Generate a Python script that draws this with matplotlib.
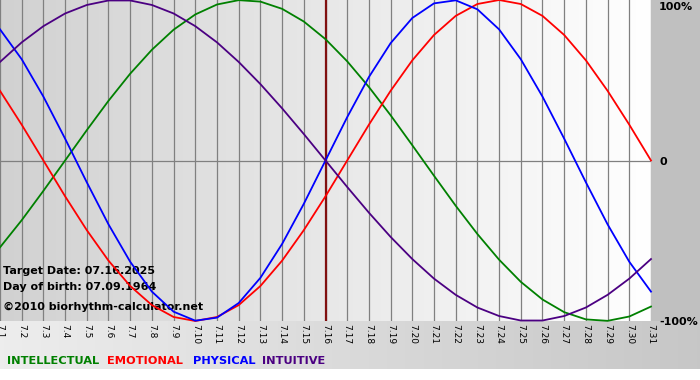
import numpy as np
import matplotlib
matplotlib.use("Agg")
import matplotlib.pyplot as plt

# days of July 2025 shown on the x axis
days = list(range(1, 32))
day_labels = ["7.%d" % d for d in days]
target_day = 16

# cycle values (-1..1), one per day
physical = [0.817, 0.631, 0.398, 0.136, -0.136, -0.398, -0.631, -0.817, -0.942, -0.998,
            -0.979, -0.888, -0.731, -0.520, -0.270, 0.0, 0.270, 0.520, 0.731, 0.888,
            0.979, 0.998, 0.942, 0.817, 0.631, 0.398, 0.136, -0.136, -0.398, -0.631, -0.817]
emotional = [0.434, 0.223, 0.0, -0.223, -0.434, -0.624, -0.782, -0.901, -0.975, -1.0,
             -0.975, -0.901, -0.782, -0.624, -0.434, -0.223, 0.0, 0.223, 0.434, 0.624,
             0.782, 0.901, 0.975, 1.0, 0.975, 0.901, 0.782, 0.624, 0.434, 0.223, 0.0]
intellectual = [-0.541, -0.372, -0.189, 0.0, 0.189, 0.372, 0.541, 0.690, 0.815, 0.910,
                0.972, 0.999, 0.990, 0.945, 0.866, 0.756, 0.618, 0.458, 0.282, 0.095,
                -0.095, -0.282, -0.458, -0.618, -0.756, -0.866, -0.945, -0.990, -0.999, -0.972, -0.910]
intuitive = [0.614, 0.736, 0.837, 0.916, 0.969, 0.997, 0.997, 0.969, 0.916, 0.837,
             0.736, 0.614, 0.476, 0.325, 0.165, 0.0, -0.165, -0.325, -0.476, -0.614,
             -0.736, -0.837, -0.916, -0.969, -0.997, -0.997, -0.969, -0.916, -0.837, -0.736, -0.614]

series = [("INTELLECTUAL", intellectual, "#008000"),
          ("EMOTIONAL", emotional, "#ff0000"),
          ("PHYSICAL", physical, "#0000ff"),
          ("INTUITIVE", intuitive, "#4b0082")]

W, H = 700, 380
plot_right, plot_bottom = 651, 321

fig = plt.figure(figsize=(7, 3.8), dpi=100)
fig.patch.set_facecolor("white")

# background panels drawn in pixel coordinates
bg = fig.add_axes([0, 0, 1, 1], zorder=0)
bg.axis("off")
grad = np.linspace(0.82, 1.0, 256).reshape(1, -1)
bg.imshow(np.dstack([grad] * 3), extent=(0, plot_right, plot_bottom, 0), aspect="auto")
band = np.linspace(0.93, 0.78, 256).reshape(1, -1)
bg.imshow(np.dstack([band] * 3), extent=(0, W, 369, plot_bottom), aspect="auto")
bg.fill_between([plot_right, W], 0, plot_bottom, color="#c0c0c0", lw=0)
bg.set_xlim(0, W)
bg.set_ylim(H, 0)

ax = fig.add_axes([0, 1 - plot_bottom / H, plot_right / W, plot_bottom / H], zorder=1)
ax.patch.set_alpha(0)
ax.set_xlim(1, 31)
ax.set_ylim(-1, 1)
for s in ax.spines.values():
    s.set_visible(False)

for d in days:
    ax.axvline(d, color="#808080", lw=0.9, zorder=1)
ax.axhline(0, color="#808080", lw=0.9, zorder=1)
ax.axvline(target_day, color="#801010", lw=1.6, zorder=2)

ax.text(0.004, 0.155, "Target Date: 07.16.2025", transform=ax.transAxes,
        fontsize=8, fontweight="bold", va="center", zorder=1.5)
ax.text(0.004, 0.105, "Day of birth: 07.09.1964", transform=ax.transAxes,
        fontsize=8, fontweight="bold", va="center", zorder=1.5)
ax.text(0.004, 0.044, "\u00a92010 biorhythm-calculator.net", transform=ax.transAxes,
        fontsize=8, fontweight="bold", va="center", zorder=1.5)

for name, vals, col in series:
    ax.plot(days, vals, color=col, lw=1.3, zorder=3, clip_on=False)

ax.set_xticks(days)
ax.set_xticklabels(day_labels, rotation=-90, fontsize=6.5)
ax.tick_params(axis="x", length=0, pad=2)
ax.set_yticks([])

for txt, y in [("100%", 7), ("0", 162), ("-100%", 322)]:
    fig.text(659 / W, 1 - y / H, txt, fontsize=8, fontweight="bold", va="center", ha="left")

legend_x = [7, 107, 193, 262]
for (name, vals, col), x in zip(series, legend_x):
    fig.text(x / W, 1 - 361 / H, name, color=col, fontsize=8.2, fontweight="bold", va="center")

fig.savefig("out.png", dpi=100)
